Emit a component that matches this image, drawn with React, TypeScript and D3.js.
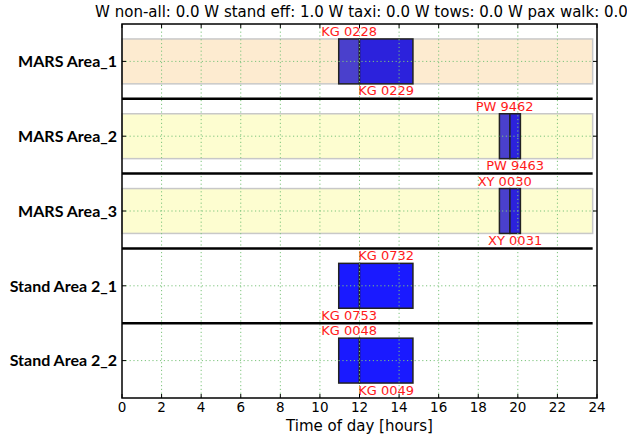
import React from 'react';
import * as d3 from 'd3';

// stands (top to bottom)
const stands = ['MARS Area_1', 'MARS Area_2', 'MARS Area_3', 'Stand Area 2_1', 'Stand Area 2_2'];
// MARS stands get a coloured availability band
const bandStands = ['MARS Area_1', 'MARS Area_2', 'MARS Area_3'];
const bandEnd = 23.78;

// flights: stand, on-block, off-block (hours)
const flightStand = ['MARS Area_1', 'MARS Area_1', 'MARS Area_2', 'MARS Area_2', 'MARS Area_3', 'MARS Area_3', 'Stand Area 2_1', 'Stand Area 2_1', 'Stand Area 2_2', 'Stand Area 2_2'];
const flightStart = [10.95, 12.0, 19.07, 19.6, 19.07, 19.6, 10.95, 12.0, 10.95, 12.0];
const flightEnd = [12.0, 14.7, 19.6, 20.13, 19.6, 20.13, 12.0, 14.7, 12.0, 14.7];
const flightLabel = ['KG 0228', 'KG 0229', 'PW 9462', 'PW 9463', 'XY 0030', 'XY 0031', 'KG 0753', 'KG 0732', 'KG 0048', 'KG 0049'];
const labelAbove = [true, false, true, false, true, false, false, true, true, false];

const xTicks = [0, 2, 4, 6, 8, 10, 12, 14, 16, 18, 20, 22, 24];
const title = 'W non-all: 0.0 W stand eff: 1.0 W taxi: 0.0 W tows: 0.0 W pax walk: 0.0';

const W = 627;
const H = 438;
const m = { left: 122, right: 597, top: 24, bottom: 398 };

const bandFill: Record<string, string> = {
  'MARS Area_1': '#fdebd0',
  'MARS Area_2': '#fdfdd0',
  'MARS Area_3': '#fdfdd0',
};

export default function App() {
  const x = d3.scaleLinear().domain([0, 24]).range([m.left, m.right]);
  const y = d3.scaleLinear().domain([0.5, stands.length + 0.5]).range([m.top, m.bottom]);
  const rowOf = (s: string) => stands.indexOf(s) + 1;
  const barH = y(0.6) - y(0);
  const grid = '#7cc47c';
  const sans = 'DejaVu Sans, sans-serif';

  return (
    <div style={{ position: 'fixed', left: 0, top: 0 }}>
      <svg width={W} height={H} style={{ display: 'block', background: '#fff' }}>
        {/* title */}
        <text x={(m.left + m.right) / 2 + 2} y={17} textAnchor="middle" fontFamily={sans} fontSize={15} fill="#000">
          {title}
        </text>

        {/* bands */}
        {bandStands.map(s => (
          <rect key={s} x={x(0)} y={y(rowOf(s)) - barH / 2} width={x(bandEnd) - x(0)} height={barH}
            fill={bandFill[s]} stroke="#c8c8c8" strokeWidth={1.5} />
        ))}

        {/* flights */}
        {flightStart.map((st, i) => {
          const r = rowOf(flightStand[i]);
          const banded = bandStands.includes(flightStand[i]);
          const first = i === 0 || flightStand[i - 1] !== flightStand[i];
          const fill = banded ? (first ? '#4a40cc' : '#2c22dc') : '#1a1aff';
          return (
            <rect key={i} x={x(st)} y={y(r) - barH / 2} width={x(flightEnd[i]) - x(st)} height={barH}
              fill={fill} stroke="#222" strokeWidth={1.5} />
          );
        })}

        {/* grid */}
        {xTicks.slice(1, -1).map(t => (
          <line key={'gx' + t} x1={x(t)} x2={x(t)} y1={m.top} y2={m.bottom}
            stroke={grid} strokeWidth={1} strokeDasharray="1.2,2.6" />
        ))}
        {stands.map((s, i) => (
          <line key={'gy' + s} x1={m.left} x2={m.right} y1={y(i + 1)} y2={y(i + 1)}
            stroke={grid} strokeWidth={1} strokeDasharray="1.2,2.6" />
        ))}

        {/* stand separators */}
        {stands.slice(1).map((s, i) => (
          <line key={'sep' + s} x1={x(0)} x2={x(bandEnd)} y1={y(i + 1.5)} y2={y(i + 1.5)}
            stroke="#000" strokeWidth={2.5} />
        ))}

        {/* flight labels */}
        {flightStart.map((st, i) => {
          const r = rowOf(flightStand[i]);
          const cx = x((st + flightEnd[i]) / 2);
          const ty = labelAbove[i] ? y(r) - barH / 2 - 3 : y(r) + barH / 2 + 11.5;
          return (
            <text key={'l' + i} x={cx} y={ty} textAnchor="middle" fontFamily={sans} fontSize={13} fill="#ff1a1a">
              {flightLabel[i]}
            </text>
          );
        })}

        {/* frame */}
        <rect x={m.left} y={m.top} width={m.right - m.left} height={m.bottom - m.top}
          fill="none" stroke="#000" strokeWidth={1.5} />

        {/* ticks */}
        {xTicks.map(t => (
          <g key={'xt' + t}>
            <line x1={x(t)} x2={x(t)} y1={m.bottom} y2={m.bottom - 4} stroke="#000" />
            <line x1={x(t)} x2={x(t)} y1={m.top} y2={m.top + 4} stroke="#000" />
            <text x={x(t)} y={412} textAnchor="middle" fontFamily={sans} fontSize={13.5} fill="#000">{t}</text>
          </g>
        ))}
        {stands.map((s, i) => (
          <g key={'yt' + s}>
            <line x1={m.left} x2={m.left + 4} y1={y(i + 1)} y2={y(i + 1)} stroke="#000" />
            <line x1={m.right} x2={m.right - 4} y1={y(i + 1)} y2={y(i + 1)} stroke="#000" />
            <text x={117} y={y(i + 1)} dy="0.36em" textAnchor="end" fontFamily="Lato, sans-serif"
              fontWeight="bold" fontSize={16} fill="#000">{s}</text>
          </g>
        ))}

        <text x={(m.left + m.right) / 2} y={431} textAnchor="middle" fontFamily={sans} fontSize={15} fill="#000">
          Time of day [hours]
        </text>
      </svg>
    </div>
  );
}
